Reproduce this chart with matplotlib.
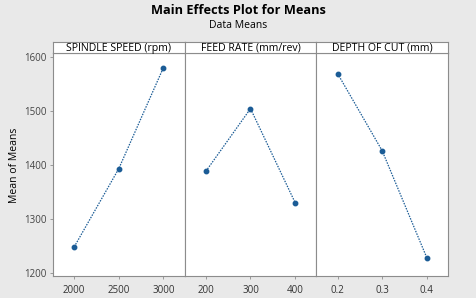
import matplotlib
matplotlib.use("Agg")
import matplotlib.pyplot as plt

plt.rcParams['font.family'] = ['Open Sans', 'DejaVu Sans']

factors = ["SPINDLE SPEED (rpm)", "FEED RATE (mm/rev)", "DEPTH OF CUT (mm)"]
levels = [[2000, 2500, 3000], [200, 300, 400], [0.2, 0.3, 0.4]]
level_labels = [["2000", "2500", "3000"], ["200", "300", "400"], ["0.2", "0.3", "0.4"]]
means = [[1248, 1393, 1580], [1388, 1504, 1330], [1569, 1426, 1228]]
y_ticks = [1200, 1300, 1400, 1500, 1600]

BG = "#e9e9e9"
LINE = "#1b5c96"
EDGE = "#8c8c8c"

W, H = 476, 298
fig = plt.figure(figsize=(W / 100, H / 100), dpi=100, facecolor=BG)

left, right, bottom, top, strip = 53, 448, 276, 53, 11
pw = (right - left) / 3

fig.text(0.5, 1 - 10 / H, "Main Effects Plot for Means", ha="center", va="center",
         fontsize=9.2, fontweight="bold")
fig.text(0.5, 1 - 26 / H, "Data Means", ha="center", va="center", fontsize=7.5)
fig.text(15 / W, 1 - 165 / H, "Mean of Means", rotation=90, ha="center", va="center",
         fontsize=7.5)

for i in range(3):
    x0 = left + i * pw
    ax = fig.add_axes([x0 / W, 1 - bottom / H, pw / W, (bottom - top) / H])
    ax.set_facecolor("white")
    ax.plot(levels[i], means[i], color=LINE, linestyle=(0, (1.2, 1.0)), linewidth=0.9,
            marker="o", markersize=3.2)
    span = levels[i][-1] - levels[i][0]
    ax.set_xlim(levels[i][0] - 0.238 * span, levels[i][-1] + 0.238 * span)
    ax.set_ylim(1194, 1607)
    ax.set_xticks(levels[i])
    ax.set_xticklabels(level_labels[i])
    ax.set_yticks(y_ticks)
    if i == 0:
        ax.set_yticklabels([str(v) for v in y_ticks])
    else:
        ax.tick_params(axis="y", left=False, labelleft=False)
    ax.tick_params(labelsize=7, length=2.5, width=0.6, pad=2)
    ax.tick_params(axis="x", colors=EDGE, labelcolor="#333333", pad=4)
    ax.tick_params(axis="y", colors=EDGE, labelcolor="#444444")
    for s in ax.spines.values():
        s.set_color(EDGE)
        s.set_linewidth(0.8)

    sax = fig.add_axes([x0 / W, 1 - top / H, pw / W, strip / H])
    sax.set_facecolor("white")
    sax.set_xticks([])
    sax.set_yticks([])
    for s in sax.spines.values():
        s.set_color(EDGE)
        s.set_linewidth(0.8)
    sax.text(0.5, 0.45, factors[i], ha="center", va="center", fontsize=7.6,
             transform=sax.transAxes)

fig.savefig("out.png", dpi=100, facecolor=BG)
